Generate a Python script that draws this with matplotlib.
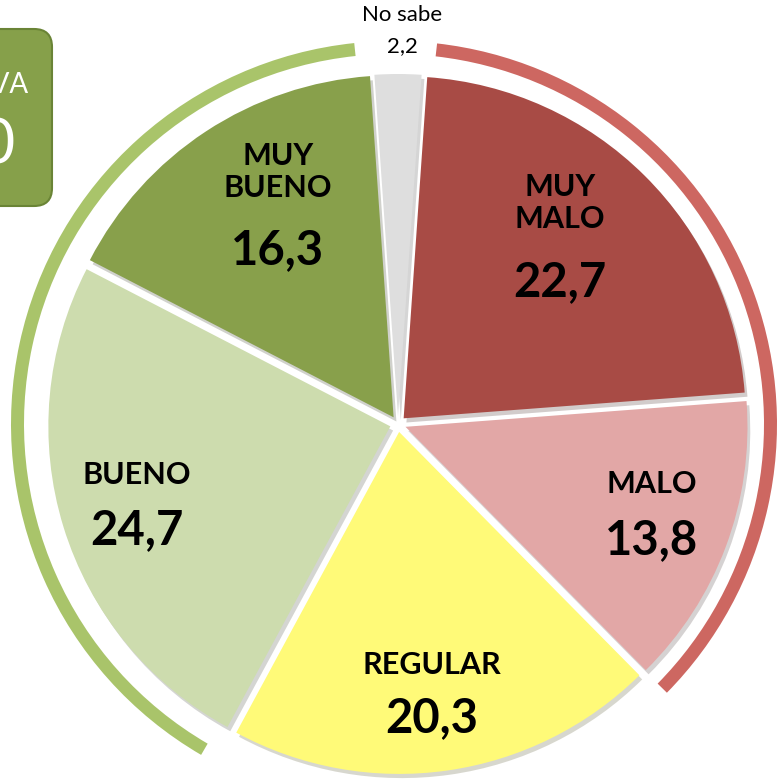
import matplotlib.pyplot as plt
from matplotlib.patches import Wedge, FancyBboxPatch
import numpy as np

plt.rcParams['font.family'] = ['Lato', 'DejaVu Sans']

labels = ['No sabe', 'MUY\nMALO', 'MALO', 'REGULAR', 'BUENO', 'MUY\nBUENO']
values = [2.2, 22.7, 13.8, 20.3, 24.7, 16.3]
value_text = ['2,2', '22,7', '13,8', '20,3', '24,7', '16,3']
colors = ['#dedede', '#a84b45', '#e2a7a6', '#fffa78', '#cddcae', '#88a04b']
box_title = 'POSITIVA'
box_value = '41,0'

W, H = 779, 782
fig = plt.figure(figsize=(W / 100, H / 100), dpi=100)
ax = fig.add_axes([0, 0, 1, 1])

cx, cy, R = 398, H - 424, 342
start = 90 + values[0] / 100 * 360 / 2

# pie explode is in data units here (pixels)
wedges, _ = ax.pie(values, colors=colors, startangle=start, counterclock=False,
                   center=(cx, cy), radius=R, explode=[8] * 6,
                   wedgeprops=dict(edgecolor='none', linewidth=0),
                   shadow=dict(ox=2, oy=-3, alpha=0.22))
ax.set_xlim(0, W)
ax.set_ylim(0, H)
ax.set_aspect('equal')
ax.axis('off')

# outer arcs: green for positive, red for negative
cum = start - np.cumsum([0] + values) / 100 * 360
ar = 383
ax.add_patch(Wedge((cx - 4, cy), ar, cum[6] + 2.0, cum[4] - 1.8, width=13,
                   facecolor='#a9c46a', edgecolor='none'))
ax.add_patch(Wedge((cx - 4, cy), ar, cum[3] + 0.8, cum[1] - 2.5, width=13,
                   facecolor='#cd6761', edgecolor='none'))

# labels
pos = [(402, 15), (560, 203), (652, 484), (432, 665), (137, 475), (278, 172)]
vpos = [(402, 46), (560, 282), (652, 540), (432, 718), (137, 530), (278, 250)]
for i, (lab, vt) in enumerate(zip(labels, value_text)):
    if i == 0:
        ax.text(pos[i][0], H - pos[i][1], lab, ha='center', va='center', fontsize=16)
        ax.text(vpos[i][0], H - vpos[i][1], vt, ha='center', va='center', fontsize=16)
    else:
        ax.text(pos[i][0], H - pos[i][1], lab, ha='center', va='center',
                fontsize=22, fontweight='bold', linespacing=1.2)
        ax.text(vpos[i][0], H - vpos[i][1], vt, ha='center', va='center',
                fontsize=34, fontweight='bold')

# cropped summary box
box = FancyBboxPatch((-60, H - 206), 112, 177, boxstyle='round,pad=0,rounding_size=18',
                     facecolor='#86a04a', edgecolor='#6a8436', linewidth=1.5)
ax.add_patch(box)
ax.text(29, H - 85, box_title, ha='right', va='center', fontsize=20, color='white')
ax.text(16, H - 145, box_value, ha='right', va='center', fontsize=44,
        color='white')

fig.savefig('out.png', dpi=100)
